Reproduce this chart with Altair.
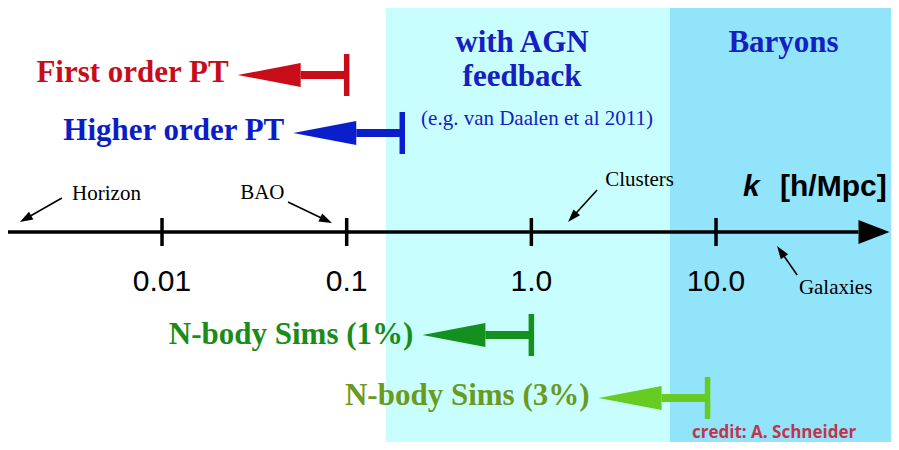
import math
import altair as alt
import pandas as pd

# ---------------- data ----------------
tick_values = [0.01, 0.1, 1.0, 10.0]
tick_labels = ["0.01", "0.1", "1.0", "10.0"]

regime_names = ["First order PT", "Higher order PT", "N-body Sims (1%)", "N-body Sims (3%)"]
regime_kmax = [0.1, 0.2, 1.0, 9.0]

region_names = ["with AGN feedback", "Baryons"]
region_kstart = [0.163, 5.63]

scale_names = ["Horizon", "BAO", "Clusters", "Galaxies"]

axis_title_k = "k"
axis_title_unit = "[h/Mpc]"
region_title_1 = ["with AGN", "feedback"]
region_title_2 = "Baryons"
region_note = "(e.g. van Daalen et al 2011)"
credit_text = "credit: A. Schneider"

# ---------------- layout / style ----------------
W, H = 883, 434
DEC = 184.67                      # pixels per decade on the k axis
LOG_MIN = -2.834
LOG_MAX = LOG_MIN + W / DEC
KMIN, KMAX = 10 ** LOG_MIN, 10 ** LOG_MAX


def shift(k, px):
    """move a k value by px pixels along the log axis"""
    return k * 10 ** (px / DEC)


xs = alt.Scale(type="log", domain=[KMIN, KMAX], nice=False)
ys = alt.Scale(domain=[0, H], reverse=True, nice=False, zero=False)

AXIS_Y = 224
AXIS_TIP_K = shift(KMAX, -1.5)
AXIS_BASE_K = shift(AXIS_TIP_K, -31)

SERIF = "Liberation Serif"
SANS = "Liberation Sans"
BIG = 31

# ---------------- backgrounds ----------------
bg = pd.DataFrame({
    "name": region_names,
    "k1": region_kstart,
    "k2": [region_kstart[1], KMAX],
    "y1": [0, 0],
    "y2": [H, H],
    "col": ["#C8FEFE", "#92E4FA"],
})
bg_layer = alt.Chart(bg).mark_rect().encode(
    x=alt.X("k1:Q", scale=xs, axis=None),
    x2="k2:Q",
    y=alt.Y("y1:Q", scale=ys, axis=None),
    y2="y2:Q",
    color=alt.Color("col:N", scale=None),
)

# ---------------- k axis ----------------
axis_df = pd.DataFrame({"k1": [KMIN], "k2": [AXIS_BASE_K], "y": [AXIS_Y]})
axis_line = alt.Chart(axis_df).mark_rule(color="black", strokeWidth=3.5).encode(
    x=alt.X("k1:Q", scale=xs, axis=None), x2="k2:Q",
    y=alt.Y("y:Q", scale=ys, axis=None),
)

ticks = pd.DataFrame({"k": tick_values, "lab": tick_labels,
                      "y1": [AXIS_Y - 14] * 4, "y2": [AXIS_Y + 14] * 4, "ty": [274] * 4})
tick_layer = alt.Chart(ticks).mark_rule(color="black", strokeWidth=3.5).encode(
    x=alt.X("k:Q", scale=xs, axis=None),
    y=alt.Y("y1:Q", scale=ys, axis=None), y2="y2:Q",
)
tick_text = alt.Chart(ticks).mark_text(font=SANS, fontSize=30, color="black",
                                        align="center", baseline="middle").encode(
    x=alt.X("k:Q", scale=xs, axis=None),
    y=alt.Y("ty:Q", scale=ys, axis=None),
    text="lab:N",
)

# ---------------- regime arrows ----------------
reg = pd.DataFrame({
    "name": regime_names,
    "kmax": regime_kmax,
    "cy": [67, 125, 327, 390],
    "ty": [65, 123, 327, 388],
    "acol": ["#C80D18", "#0A1ECB", "#14901E", "#66CC22"],
    "tcol": ["#C80D18", "#0A1EC8", "#1A8C1A", "#6B9A1E"],
})
reg["ktip"] = [shift(k, -109) for k in reg["kmax"]]
reg["kbase"] = [shift(k, -46) for k in reg["kmax"]]
reg["bt"] = reg["cy"] - 21
reg["bb"] = reg["cy"] + 21

heads = []
for _, r in reg.iterrows():
    heads.append({"g": r["name"], "k": r["ktip"], "y1": r["cy"], "y2": r["cy"], "col": r["acol"]})
    heads.append({"g": r["name"], "k": r["kbase"], "y1": r["cy"] - 12, "y2": r["cy"] + 12, "col": r["acol"]})
heads.append({"g": "axis", "k": AXIS_BASE_K, "y1": AXIS_Y - 12, "y2": AXIS_Y + 12, "col": "black"})
heads.append({"g": "axis", "k": AXIS_TIP_K, "y1": AXIS_Y, "y2": AXIS_Y, "col": "black"})
heads = pd.DataFrame(heads)

head_layer = alt.Chart(heads).mark_area(orient="vertical", interpolate="linear").encode(
    x=alt.X("k:Q", scale=xs, axis=None),
    y=alt.Y("y1:Q", scale=ys, axis=None), y2="y2:Q",
    detail="g:N",
    color=alt.Color("col:N", scale=None),
)
shaft_layer = alt.Chart(reg).mark_rule(strokeWidth=8).encode(
    x=alt.X("kbase:Q", scale=xs, axis=None), x2="kmax:Q",
    y=alt.Y("cy:Q", scale=ys, axis=None),
    color=alt.Color("acol:N", scale=None),
)
bar_layer = alt.Chart(reg).mark_rule(strokeWidth=5.5).encode(
    x=alt.X("kmax:Q", scale=xs, axis=None),
    y=alt.Y("bt:Q", scale=ys, axis=None), y2="bb:Q",
    color=alt.Color("acol:N", scale=None),
)
reg_text = alt.Chart(reg).mark_text(font=SERIF, fontWeight="bold", fontSize=BIG,
                                     align="right", baseline="middle", dx=-9).encode(
    x=alt.X("ktip:Q", scale=xs, axis=None),
    y=alt.Y("ty:Q", scale=ys, axis=None),
    text="name:N",
    color=alt.Color("tcol:N", scale=None),
)

# ---------------- region titles ----------------
titles = pd.DataFrame({
    "t": region_title_1 + [region_title_2],
    "k": [0.890, 0.890, 23.2],
    "y": [34.5, 69, 35],
})
title_layer = alt.Chart(titles).mark_text(font=SERIF, fontWeight="bold", fontSize=BIG,
                                           color="#1620C2", align="center", baseline="middle").encode(
    x=alt.X("k:Q", scale=xs, axis=None),
    y=alt.Y("y:Q", scale=ys, axis=None),
    text="t:N",
)
note = pd.DataFrame({"t": [region_note], "k": [1.073], "y": [111]})
note_layer = alt.Chart(note).mark_text(font=SERIF, fontSize=21, color="#1620C2",
                                        align="center", baseline="middle").encode(
    x=alt.X("k:Q", scale=xs, axis=None),
    y=alt.Y("y:Q", scale=ys, axis=None),
    text="t:N",
)

# ---------------- scale annotations ----------------
ann = pd.DataFrame({
    "name": scale_names,
    "tk": [0.00326, 0.0265, 2.51, 28.1],
    "ty": [186, 184.5, 171.5, 280],
    "k0": [0.00287, 0.0481, 2.27, 27.5],
    "y0": [190, 194, 182, 267],
    "k1": [0.00170, 0.0833, 1.58, 21.4],
    "y1": [214, 215, 214, 238],
})
angs, kend, yend = [], [], []
for _, r in ann.iterrows():
    dx = DEC * (math.log10(r["k1"]) - math.log10(r["k0"]))
    dy = r["y1"] - r["y0"]
    L = math.hypot(dx, dy)
    angs.append(math.degrees(math.atan2(dx, -dy)) % 360)
    kend.append(shift(r["k1"], -dx / L * 6))
    yend.append(r["y1"] - dy / L * 6)
ann["ang"] = angs
ann["ke"] = kend
ann["ye"] = yend

ann_text = alt.Chart(ann).mark_text(font=SERIF, fontSize=21, color="black",
                                     align="left", baseline="middle").encode(
    x=alt.X("tk:Q", scale=xs, axis=None),
    y=alt.Y("ty:Q", scale=ys, axis=None),
    text="name:N",
)
ann_line = alt.Chart(ann).mark_rule(color="black", strokeWidth=1.6).encode(
    x=alt.X("k0:Q", scale=xs, axis=None), x2="ke:Q",
    y=alt.Y("y0:Q", scale=ys, axis=None), y2="ye:Q",
)
ann_head = alt.Chart(ann).mark_point(shape="M0,0L-0.34,1L0.34,1Z", filled=True, size=676,
                                     color="black", opacity=1, strokeWidth=0).encode(
    x=alt.X("k1:Q", scale=xs, axis=None),
    y=alt.Y("y1:Q", scale=ys, axis=None),
    angle=alt.Angle("ang:Q", scale=None),
)

# ---------------- axis title & credit ----------------
ktitle = pd.DataFrame({"t": [axis_title_k], "k": [14.0], "y": [178.5]})
ktitle_layer = alt.Chart(ktitle).mark_text(font=SANS, fontWeight="bold", fontStyle="italic",
                                            fontSize=30, color="black", align="left",
                                            baseline="middle").encode(
    x=alt.X("k:Q", scale=xs, axis=None),
    y=alt.Y("y:Q", scale=ys, axis=None),
    text="t:N",
)
unit = pd.DataFrame({"t": [axis_title_unit], "k": [22.2], "y": [178.5]})
unit_layer = alt.Chart(unit).mark_text(font=SANS, fontWeight="bold", fontSize=30,
                                        color="black", align="left", baseline="middle").encode(
    x=alt.X("k:Q", scale=xs, axis=None),
    y=alt.Y("y:Q", scale=ys, axis=None),
    text="t:N",
)
cred = pd.DataFrame({"t": [credit_text], "k": [7.41], "y": [425]})
cred_layer = alt.Chart(cred).mark_text(font="Open Sans", fontWeight="bold", fontSize=17,
                                        color="#C0344E", align="left", baseline="middle").encode(
    x=alt.X("k:Q", scale=xs, axis=None),
    y=alt.Y("y:Q", scale=ys, axis=None),
    text="t:N",
)

chart = alt.layer(
    bg_layer, axis_line, tick_layer, head_layer, shaft_layer, bar_layer,
    tick_text, reg_text, title_layer, note_layer,
    ann_line, ann_head, ann_text, ktitle_layer, unit_layer, cred_layer,
).properties(
    width=W, height=H, padding=0, autosize="none", background="white",
).configure_view(stroke=None)

chart.save("out.html", embed_options={"renderer": "svg", "actions": False})
